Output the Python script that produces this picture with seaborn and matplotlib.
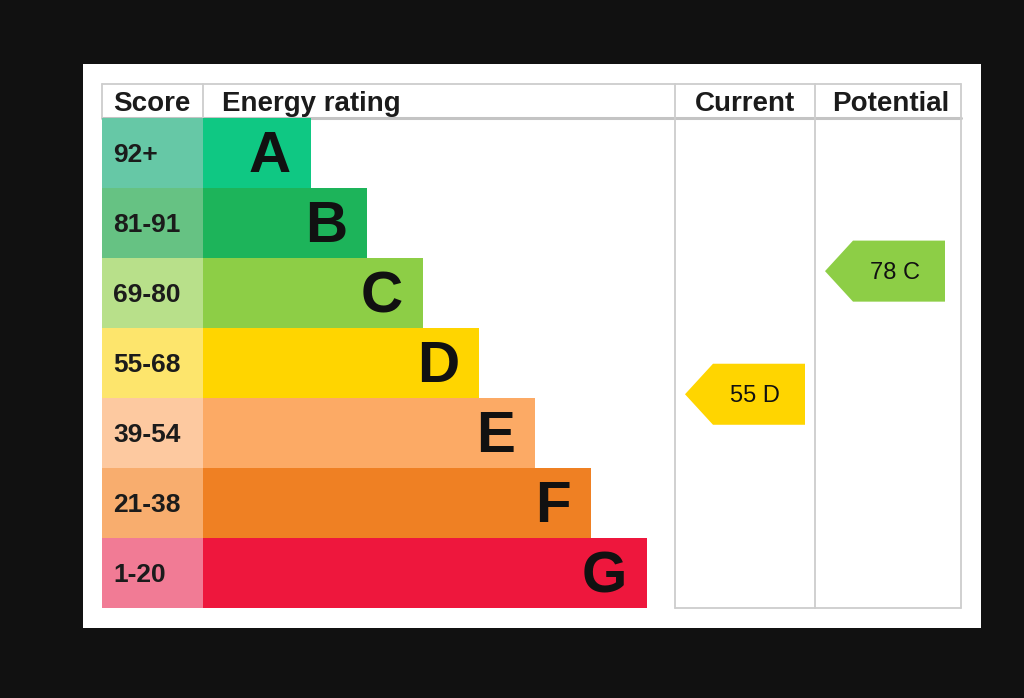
import matplotlib
matplotlib.use("Agg")
import matplotlib.pyplot as plt
import seaborn as sns
import pandas as pd
from matplotlib.patches import Polygon, Rectangle

# EPC bands
bands = ["A", "B", "C", "D", "E", "F", "G"]
score_ranges = ["92+", "81-91", "69-80", "55-68", "39-54", "21-38", "1-20"]
band_low = [92, 81, 69, 55, 39, 21, 1]
band_high = [100, 91, 80, 68, 54, 38, 20]
bar_length = [108, 164, 220, 276, 332, 388, 444]   # out of a 472 wide column
band_colors = ["#0fc883", "#1db45a", "#8dce46", "#ffd500", "#fcaa65", "#ef8023", "#ee173d"]
score_colors = ["#66c8a6", "#66c283", "#b8e08a", "#fde56c", "#fdc9a0", "#f8ad6e", "#f17b95"]

current_score = 55
potential_score = 78

W, H = 1024, 698


def box(x0, y0, x1, y1):
    # pixel box (top-left origin) -> figure rect
    return [x0 / W, 1 - y1 / H, (x1 - x0) / W, (y1 - y0) / H]


def band_of(score):
    for i, (lo, hi) in enumerate(zip(band_low, band_high)):
        if lo <= score <= hi:
            return i
    return len(bands) - 1


sns.set_theme(style="white")
plt.rcParams["font.family"] = ["Liberation Sans", "DejaVu Sans"]
text_color = "#1b1b1b"
line_color = "#cdcdcd"

fig = plt.figure(figsize=(10.24, 6.98), dpi=100, facecolor="#111111")

# background frame in pixel coordinates
frame = fig.add_axes([0, 0, 1, 1])
frame.set_xlim(0, W)
frame.set_ylim(H, 0)
frame.axis("off")
frame.add_patch(Rectangle((83, 64), 898, 564, facecolor="white", edgecolor="none"))
frame.plot([102, 961], [84, 84], color=line_color, lw=1.3)
frame.plot([102, 961], [118, 118], color="#c4c4c4", lw=2.2)
frame.plot([675, 961], [608, 608], color=line_color, lw=1.3)
for x in [102, 203]:
    frame.plot([x, x], [84, 118], color=line_color, lw=1.3)
for x in [675, 815, 961]:
    frame.plot([x, x], [84, 608], color=line_color, lw=1.3)

hdr = dict(fontsize=20, fontweight="bold", color=text_color, va="center")
frame.text(113, 104, "Score", ha="left", **hdr)
frame.text(222, 104, "Energy rating", ha="left", **hdr)
frame.text(745, 104, "Current", ha="center", **hdr)
frame.text(891, 104, "Potential", ha="center", **hdr)

df = pd.DataFrame({"band": bands, "range": score_ranges,
                   "length": bar_length, "full": 1})

# score column
ax_s = fig.add_axes(box(102, 118, 203, 608))
sns.barplot(data=df, x="full", y="range", hue="range", palette=score_colors,
            width=1, saturation=1, legend=False, orient="h", linewidth=0, ax=ax_s)
ax_s.set_xlim(0, 1)
ax_s.set_ylim(6.5, -0.5)
ax_s.axis("off")
for i, lab in enumerate(score_ranges):
    ax_s.text(0.11, i + 0.03, lab, ha="left", va="center", fontsize=19,
              fontweight="bold", color=text_color)

# energy rating bars
ax_r = fig.add_axes(box(203, 118, 675, 608))
sns.barplot(data=df, x="length", y="band", hue="band", palette=band_colors,
            width=1, saturation=1, legend=False, orient="h", linewidth=0, ax=ax_r)
ax_r.set_xlim(0, 472)
ax_r.set_ylim(6.5, -0.5)
ax_r.axis("off")
for i, (b, length) in enumerate(zip(bands, bar_length)):
    ax_r.text(length - 20, i + 0.06, b, ha="right", va="center", fontsize=42,
              fontweight="bold", color="#111111")


def draw_arrow(rect, width, score):
    ax = fig.add_axes(rect)
    ax.set_xlim(0, width)
    ax.set_ylim(6.5, -0.5)
    ax.axis("off")
    i = band_of(score)
    frac = (score - band_low[i] + 0.75) / (band_high[i] - band_low[i] + 1)
    yc = i + 0.5 - frac
    h = 0.436
    pts = [(10, yc), (38, yc - h), (130, yc - h), (130, yc + h), (38, yc + h)]
    ax.add_patch(Polygon(pts, closed=True, facecolor=band_colors[i], edgecolor="none"))
    ax.text(80, yc + 0.02, f"{score} {bands[i]}", ha="center", va="center",
            fontsize=17, color="#111111")


draw_arrow(box(675, 118, 815, 608), 140, current_score)
draw_arrow(box(815, 118, 961, 608), 146, potential_score)

fig.savefig("out.png", dpi=100, facecolor=fig.get_facecolor())
